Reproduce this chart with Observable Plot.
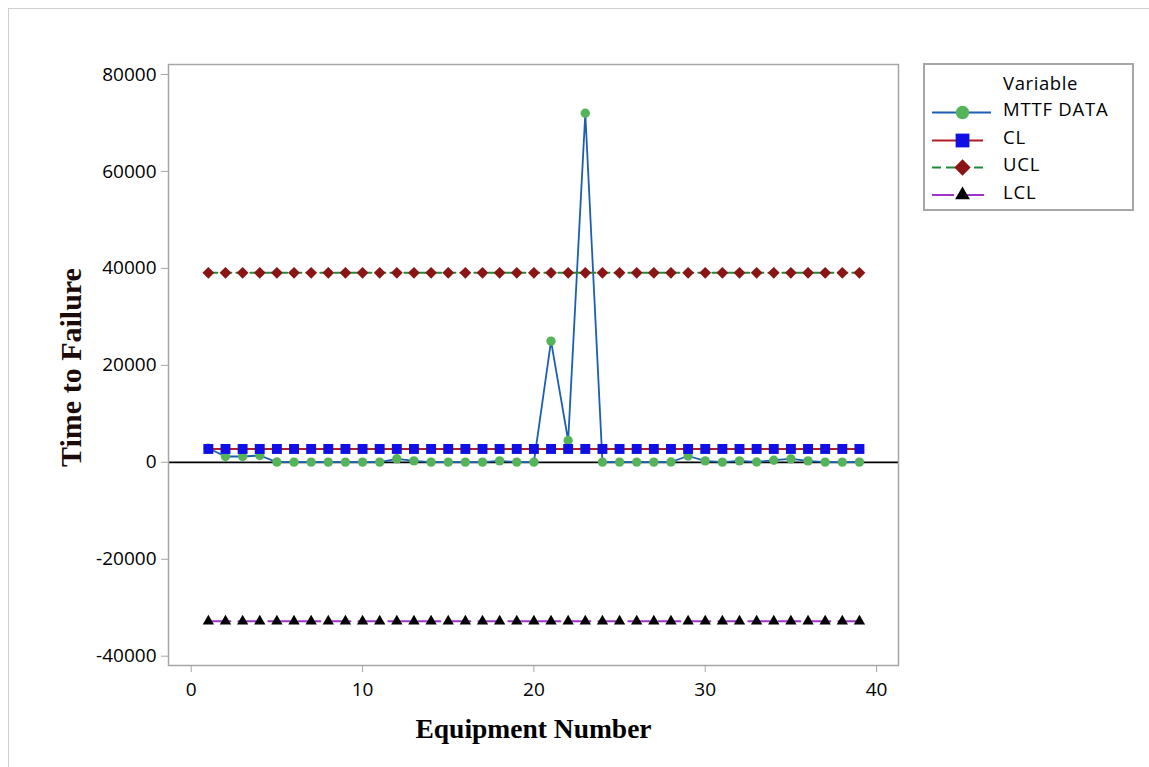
<!DOCTYPE html>
<html>
<head>
<meta charset="utf-8">
<script src="https://cdn.jsdelivr.net/npm/d3@7"></script>
<script src="https://cdn.jsdelivr.net/npm/@observablehq/plot@0.6"></script>
<style>
  body { margin: 0; background: #fff; }
  #wrap { position: relative; width: 1149px; height: 767px; overflow: hidden; background: #fff; }
  #edge { position: absolute; left: 8px; top: 8px; right: -10px; bottom: -10px;
          border-top: 1px solid #cfcfcf; border-left: 1px solid #cfcfcf; pointer-events: none; }
  #chart { position: absolute; left: 0; top: 0; }
  #legend { position: absolute; left: 923px; top: 63px; }
</style>
</head>
<body>
<div id="wrap">
  <div id="edge"></div>
  <div id="chart"></div>
  <div id="legend"></div>
</div>
<script>
// Equipment index and mean time to failure per unit
const equipment = [1, 2, 3, 4, 5, 6, 7, 8, 9, 10, 11, 12, 13, 14, 15, 16, 17, 18, 19, 20,
                   21, 22, 23, 24, 25, 26, 27, 28, 29, 30, 31, 32, 33, 34, 35, 36, 37, 38, 39];
const mttf = [2900, 1200, 1200, 1400, 50, 40, 40, 40, 40, 40, 40, 720, 300, 40, 40, 40, 40, 300, 40, 40,
              25000, 4500, 72000, 40, 40, 40, 40, 60, 1300, 300, 40, 300, 60, 430, 700, 300, 40, 40, 40];

// Control limits
const centerLine = 2750;
const upperLimit = 39100;
const lowerLimit = -32800;

// Axis ticks
const xTicks = [0, 10, 20, 30, 40];
const yTicks = [-40000, -20000, 0, 20000, 40000, 60000, 80000];

// Legend entries
const seriesNames = ["MTTF DATA", "CL", "UCL", "LCL"];
const legendTitle = "Variable";

const seriesStyle = {
  "MTTF DATA": { line: "#1a5fb4", dash: null, symbol: d3.symbolCircle, fill: "#55b35a" },
  "CL":        { line: "#b01e23", dash: null, symbol: d3.symbolSquare, fill: "#1010e6" },
  "UCL":       { line: "#1e8a3c", dash: "9,5", symbol: d3.symbolDiamond2, fill: "#8b1414" },
  "LCL":       { line: "#a033c8", dash: "22,8", symbol: d3.symbolTriangle, fill: "#000000" }
};

const rows = equipment.map((e, i) => ({
  e, mttf: mttf[i], cl: centerLine, ucl: upperLimit, lcl: lowerLimit
}));

const tickFont = "'Open Sans', 'Noto Sans', sans-serif";
const titleFont = "'Liberation Serif', 'DejaVu Serif', serif";

const chart = Plot.plot({
  width: 1149,
  height: 767,
  marginLeft: 168,
  marginTop: 64,
  marginRight: 251,
  marginBottom: 102,
  x: { domain: [-1.326, 41.28] },
  y: { domain: [-41918, 82063] },
  style: { fontFamily: tickFont, fontSize: "19px", fontWeight: 500, color: "#000", background: "transparent" },
  marks: [
    Plot.ruleY([0], { stroke: "#000", strokeWidth: 1.8 }),
    Plot.line(rows, { x: "e", y: "mttf", stroke: seriesStyle["MTTF DATA"].line, strokeWidth: 1.8 }),
    Plot.dot(rows, { x: "e", y: "mttf", r: 4.7, fill: seriesStyle["MTTF DATA"].fill }),
    Plot.line(rows, { x: "e", y: "cl", stroke: seriesStyle["CL"].line, strokeWidth: 2 }),
    Plot.dot(rows, { x: "e", y: "cl", symbol: "square", r: 5.6, fill: seriesStyle["CL"].fill }),
    Plot.line(rows, { x: "e", y: "ucl", stroke: seriesStyle["UCL"].line, strokeWidth: 2, strokeDasharray: seriesStyle["UCL"].dash }),
    Plot.dot(rows, { x: "e", y: "ucl", symbol: "diamond2", r: 5.3, fill: seriesStyle["UCL"].fill }),
    Plot.line(rows, { x: "e", y: "lcl", stroke: seriesStyle["LCL"].line, strokeWidth: 2, strokeDasharray: seriesStyle["LCL"].dash }),
    Plot.dot(rows, { x: "e", y: "lcl", symbol: "triangle", r: 4.2, fill: seriesStyle["LCL"].fill }),
    Plot.frame({ stroke: "#a6a6a6", strokeWidth: 1.5 }),
    Plot.axisX({ ticks: xTicks, tickSize: 7, tickPadding: 10, stroke: "#a6a6a6", label: null, tickFormat: d => String(d) }),
    Plot.axisY({ ticks: yTicks, tickSize: 7, tickPadding: 5, stroke: "#a6a6a6", label: null, tickFormat: d => String(d) }),
    Plot.text(["Equipment Number"], {
      text: d => d, frameAnchor: "bottom", textAnchor: "middle", lineAnchor: "middle", dy: 64,
      fontFamily: titleFont, fontWeight: "bold", fontSize: 27.5, fill: "#000"
    }),
    Plot.text(["Time to Failure"], {
      text: d => d, frameAnchor: "left", textAnchor: "middle", lineAnchor: "middle", dx: -97, dy: 2.5, rotate: -90,
      fontFamily: titleFont, fontWeight: "bold", fontSize: 30, fill: "#1a0a0a"
    })
  ]
});
document.getElementById("chart").appendChild(chart);

// Legend box on the right
const lw = 211, lh = 148;
const leg = d3.select("#legend").append("svg").attr("width", lw).attr("height", lh);
leg.append("rect").attr("x", 1).attr("y", 1).attr("width", lw - 2).attr("height", lh - 2)
  .attr("fill", "#fff").attr("stroke", "#a6a6a6").attr("stroke-width", 2);
leg.append("text").attr("x", 80).attr("y", 26.5).text(legendTitle)
  .attr("font-family", tickFont).attr("font-size", 18.5).attr("font-weight", 500)
  .attr("letter-spacing", 0.6).attr("fill", "#000");

const rowY = [49.5, 77.5, 104.5, 132];
const lineEnd = [68, 60, 64, 62];
const symbolSize = [140, 190, 170, 95];
seriesNames.forEach((name, i) => {
  const s = seriesStyle[name];
  const g = leg.append("g");
  g.append("line").attr("x1", 9).attr("x2", lineEnd[i]).attr("y1", rowY[i]).attr("y2", rowY[i])
    .attr("stroke", s.line).attr("stroke-width", 2).attr("stroke-dasharray", s.dash);
  g.append("path").attr("d", d3.symbol(s.symbol, symbolSize[i])())
    .attr("transform", `translate(39.5,${rowY[i]})`).attr("fill", s.fill);
  g.append("text").attr("x", 80).attr("y", rowY[i] + 3.5).text(name)
    .attr("font-family", tickFont).attr("font-size", 18.5).attr("font-weight", 500)
    .attr("letter-spacing", 0.8).attr("fill", "#000");
});
</script>
</body>
</html>
